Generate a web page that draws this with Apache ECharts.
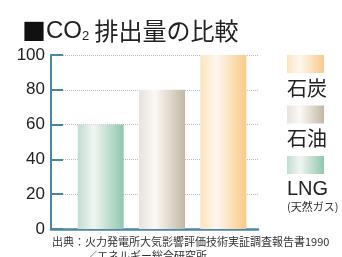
<!DOCTYPE html>
<html>
<head>
<meta charset="utf-8">
<script src="https://cdn.jsdelivr.net/npm/echarts@6/dist/echarts.min.js"></script>
<style>
  html, body { margin: 0; padding: 0; background: #fff; }
  #chart { width: 342px; height: 257px; }
</style>
</head>
<body>
<div id="chart"></div>
<script>
const categories = ["LNG", "石油", "石炭"];
const values = [60, 80, 100];
const yTicks = [0, 20, 40, 60, 80, 100];
const legendOrder = ["石炭", "石油", "LNG"];
const sourceLines = ["出典：火力発電所大気影響評価技術実証調査報告書1990", "／エネルギー総合研究所"];

const FONT = "'Noto Sans CJK JP', 'Liberation Sans', sans-serif";
const LATIN = "'Liberation Sans', 'Noto Sans CJK JP', sans-serif";
const AXIS = "#4a86a6";

// 左端・中央・右端の色
const barColors = {
  "LNG": ["#c2ddcf", "#f0f6f2", "#92c6ae"],
  "石油": ["#e7e3dd", "#fbf9f6", "#c3b7a2"],
  "石炭": ["#fde3bf", "#fff7ee", "#f7ca86"]
};

function grad(name) {
  const c = barColors[name];
  return new echarts.graphic.LinearGradient(0, 0, 1, 0, [
    { offset: 0, color: c[0] },
    { offset: 0.35, color: c[1] },
    { offset: 1, color: c[2] }
  ]);
}

const chart = echarts.init(document.getElementById("chart"));

const legendGraphics = [];
legendOrder.forEach((name, i) => {
  const top = 55 + i * 50.5;
  legendGraphics.push({
    type: "rect",
    shape: { x: 287, y: top, width: 37, height: 18 },
    style: { fill: grad(name) }
  });
  legendGraphics.push({
    type: "text",
    x: 287,
    y: top + 23,
    style: { text: name, font: "20px " + (name === "LNG" ? LATIN : FONT), fill: "#222" }
  });
});
legendGraphics.push({
  type: "text",
  x: 287,
  y: 201,
  style: { text: "(天然ガス)", font: "11px " + FONT, fill: "#333" }
});
sourceLines.forEach((t, i) => {
  legendGraphics.push({
    type: "text",
    x: i === 0 ? 52 : 86,
    y: 236 + i * 14,
    style: { text: t, font: "11px " + FONT, fill: "#333" }
  });
});

const option = {
  animation: false,
  title: {
    text: "{s|■}{a|CO}{b|2}{c| 排出量の比較}",
    left: 17,
    top: 8,
    textStyle: {
      fontWeight: "normal",
      rich: {
        s: { fontSize: 24, fontFamily: FONT, fontWeight: "normal", color: "#111", verticalAlign: "bottom", lineHeight: 30 },
        a: { fontSize: 24, fontFamily: LATIN, fontWeight: "normal", color: "#222", verticalAlign: "bottom", lineHeight: 30 },
        b: { fontSize: 13, fontFamily: LATIN, fontWeight: "normal", color: "#222", verticalAlign: "bottom", lineHeight: 24 },
        c: { fontSize: 24, fontFamily: FONT, fontWeight: "normal", color: "#222", verticalAlign: "bottom", lineHeight: 30 }
      }
    }
  },
  grid: [
    { left: 51, right: 84, top: 55, bottom: 28 },
    { left: 70, right: 88, top: 55, bottom: 28 }
  ],
  xAxis: [
    {
      type: "category",
      gridIndex: 0,
      data: [""],
      axisLine: { lineStyle: { color: AXIS, width: 2.5 } },
      axisTick: { inside: true, length: 6, lineStyle: { color: AXIS, width: 2 } },
      axisLabel: { show: false }
    },
    {
      type: "category",
      gridIndex: 1,
      data: categories,
      show: false
    }
  ],
  yAxis: [
    {
      type: "value",
      gridIndex: 0,
      min: 0,
      max: 100,
      interval: 20,
      axisLine: { show: true, lineStyle: { color: AXIS, width: 2 } },
      axisTick: { show: true, inside: true, length: 12, lineStyle: { color: AXIS, width: 2 } },
      axisLabel: {
        color: "#222",
        fontSize: 17,
        fontFamily: "'Liberation Sans', sans-serif",
        margin: 6,
        formatter: v => (yTicks.indexOf(v) >= 0 ? String(v) : "")
      },
      splitLine: { show: true, lineStyle: { color: "#bdbdbd", type: "dotted", width: 1 } }
    },
    {
      type: "value",
      gridIndex: 1,
      min: 0,
      max: 100,
      show: false,
      splitLine: { show: false }
    }
  ],
  series: [
    {
      type: "bar",
      xAxisIndex: 1,
      yAxisIndex: 1,
      barWidth: 46,
      data: values.map((v, i) => ({ value: v, itemStyle: { color: grad(categories[i]) } })),
      z: 1
    }
  ],
  graphic: legendGraphics
};

chart.setOption(option);
</script>
</body>
</html>
